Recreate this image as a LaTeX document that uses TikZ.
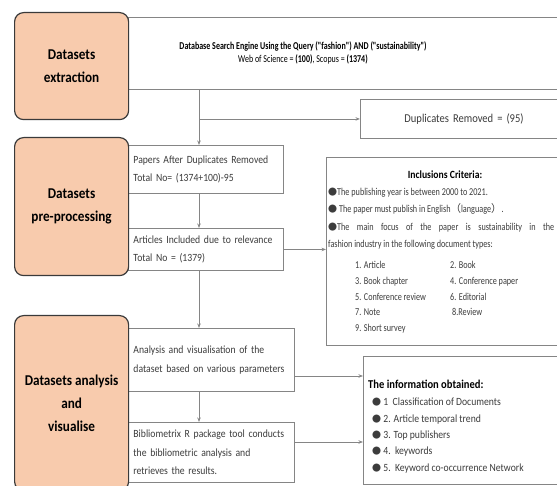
\documentclass[tikz,border=0pt]{standalone}
\usepackage{fontspec}
\setmainfont{Carlito}[FakeStretch=0.88]
\newfontfamily\inclfont{Carlito}[FakeStretch=0.78]
\newfontfamily\qfont{Carlito}[FakeStretch=0.76]
\newfontfamily\cjk{Noto Sans CJK SC}
\usetikzlibrary{arrows.meta}
\definecolor{orangefill}{HTML}{F8CBAD}
\definecolor{darkedge}{HTML}{3A3A3A}
\definecolor{boxedge}{HTML}{858585}
\definecolor{txt}{HTML}{3C3C3C}
\tikzset{
  stage/.style={draw=darkedge, line width=1.2pt, fill=orangefill, rounded corners=9pt,
    font=\fontsize{15}{23}\selectfont\bfseries, align=center, text=black, inner sep=0pt, anchor=north west},
  rbox/.style={draw=boxedge, line width=0.9pt, fill=white, inner sep=0pt, anchor=north west},
  boxtext/.style={font=\fontsize{11}{18.5}\selectfont, text=txt, align=left, inner xsep=5pt, inner ysep=0pt},
  arr/.style={draw=boxedge, line width=0.8pt, -{Stealth[length=4.5pt,width=3.5pt]}},
  incltext/.style={font=\inclfont\fontsize{10.5}{17.3}\selectfont, text=txt, align=left, inner sep=0pt, anchor=north west},
}
\newcommand{\ibul}{{\cjk\fontsize{9}{9}\selectfont ●}}
\begin{document}
\begin{tikzpicture}[x=1pt,y=-1pt]
\useasboundingbox (0,0) rectangle (557,486);
% white boxes
\node[rbox, minimum width=445pt, minimum height=72pt] (query) at (128,17) {};
\node[font=\qfont\fontsize{10.5}{13}\selectfont, text=black, align=center] (qtext) at (303,53)
  {\textbf{Database Search Engine Using the Query ("fashion") AND ("sustainability")}\\
   Web of Science = \textbf{(100)}, Scopus = \textbf{(1374)}};
\node[rbox, boxtext, font=\fontsize{12}{18.5}\selectfont, minimum width=215pt, minimum height=39pt, text width=170pt, inner xsep=44pt] (dup) at (360,99) {Duplicates Removed = (95)};
\node[rbox, boxtext, minimum height=48pt, text width=145pt] (papers) at (128,145)
  {Papers After Duplicates Removed\\Total No= (1374+100)-95};
\node[rbox, boxtext, minimum height=42pt, text width=145pt] (articles) at (128,228)
  {Articles Included due to relevance\\Total No = (1379)};
\node[rbox, boxtext, minimum height=63pt, text width=156pt] (analysis) at (128,328)
  {Analysis and visualisation of the\\dataset based on various parameters};
\node[rbox, boxtext, minimum height=60pt, text width=156pt] (bib) at (128,422)
  {Bibliometrix R package tool conducts\\the bibliometric analysis and\\retrieves the results.};
\node[rbox, minimum width=240pt, minimum height=188pt] (incl) at (326,157) {};
\node[rbox, minimum width=210pt, minimum height=128pt] (info) at (363,356) {};
% stages
\node[stage, minimum width=114pt, minimum height=107pt] (ext) at (14,12) {Datasets\\extraction};
\node[stage, minimum width=114pt, minimum height=138pt] (pre) at (14,137) {Datasets\\pre-processing};
\node[stage, minimum width=114pt, minimum height=175pt] (anav) at (14,315) {Datasets analysis\\and\\visualise};
% inclusion text
\node[font=\fontsize{11}{17}\selectfont\bfseries, text=black] (incltitle) at (445,175) {Inclusions Criteria:};
\node[incltext] (inclbody) at (328,188)
  {\ibul The publishing year is between 2000 to 2021.\\
   \ibul\ The paper must publish in English{\cjk （}language{\cjk ）}.\\
   \makebox[226pt][s]{\ibul The main focus of the paper is sustainability in the}\\
   fashion industry in the following document types:};
\node[incltext, font=\inclfont\fontsize{10.5}{15.8}\selectfont] (incllist) at (355,261)
  {\makebox[95pt][l]{1. Article}2. Book\\
   \makebox[95pt][l]{3. Book chapter}4. Conference paper\\
   \makebox[95pt][l]{5. Conference review}6. Editorial\\
   \makebox[95pt][l]{7. Note}\hspace{2pt}8.Review\\
   9. Short survey};
% information text
\node[font=\fontsize{12}{16}\selectfont\bfseries, text=black, anchor=west, inner sep=0pt] (infotitle) at (368,384) {The information obtained:};
\node[font=\fontsize{11}{16.3}\selectfont, text=txt, align=left, inner sep=0pt, anchor=north west] (infobody) at (372,398)
  {\ibul\ 1\ \ Classification of Documents\\
   \ibul\ 2. Article temporal trend\\
   \ibul\ 3. Top publishers\\
   \ibul\ 4.\ \ keywords\\
   \ibul\ 5.\ \ Keyword co-occurrence Network};
% connectors
\coordinate (vx) at (199,0);
\coordinate (i1) at (363,376);
\coordinate (i2) at (363,442);
\draw[arr] (query.south -| vx) -- (papers.north -| vx);
\draw[arr] (vx |- dup.west) -- (dup.west);
\draw[arr] (papers.south -| vx) -- (articles.north -| vx);
\draw[arr] (articles.east) -- (articles.east -| incl.west);
\draw[arr] (articles.south -| vx) -- (analysis.north -| vx);
\draw[arr] (analysis.south -| vx) -- (bib.north -| vx);
\draw[arr] (analysis.east |- i1) -- (i1);
\draw[arr] (bib.east |- i2) -- (i2);
\end{tikzpicture}
\end{document}
